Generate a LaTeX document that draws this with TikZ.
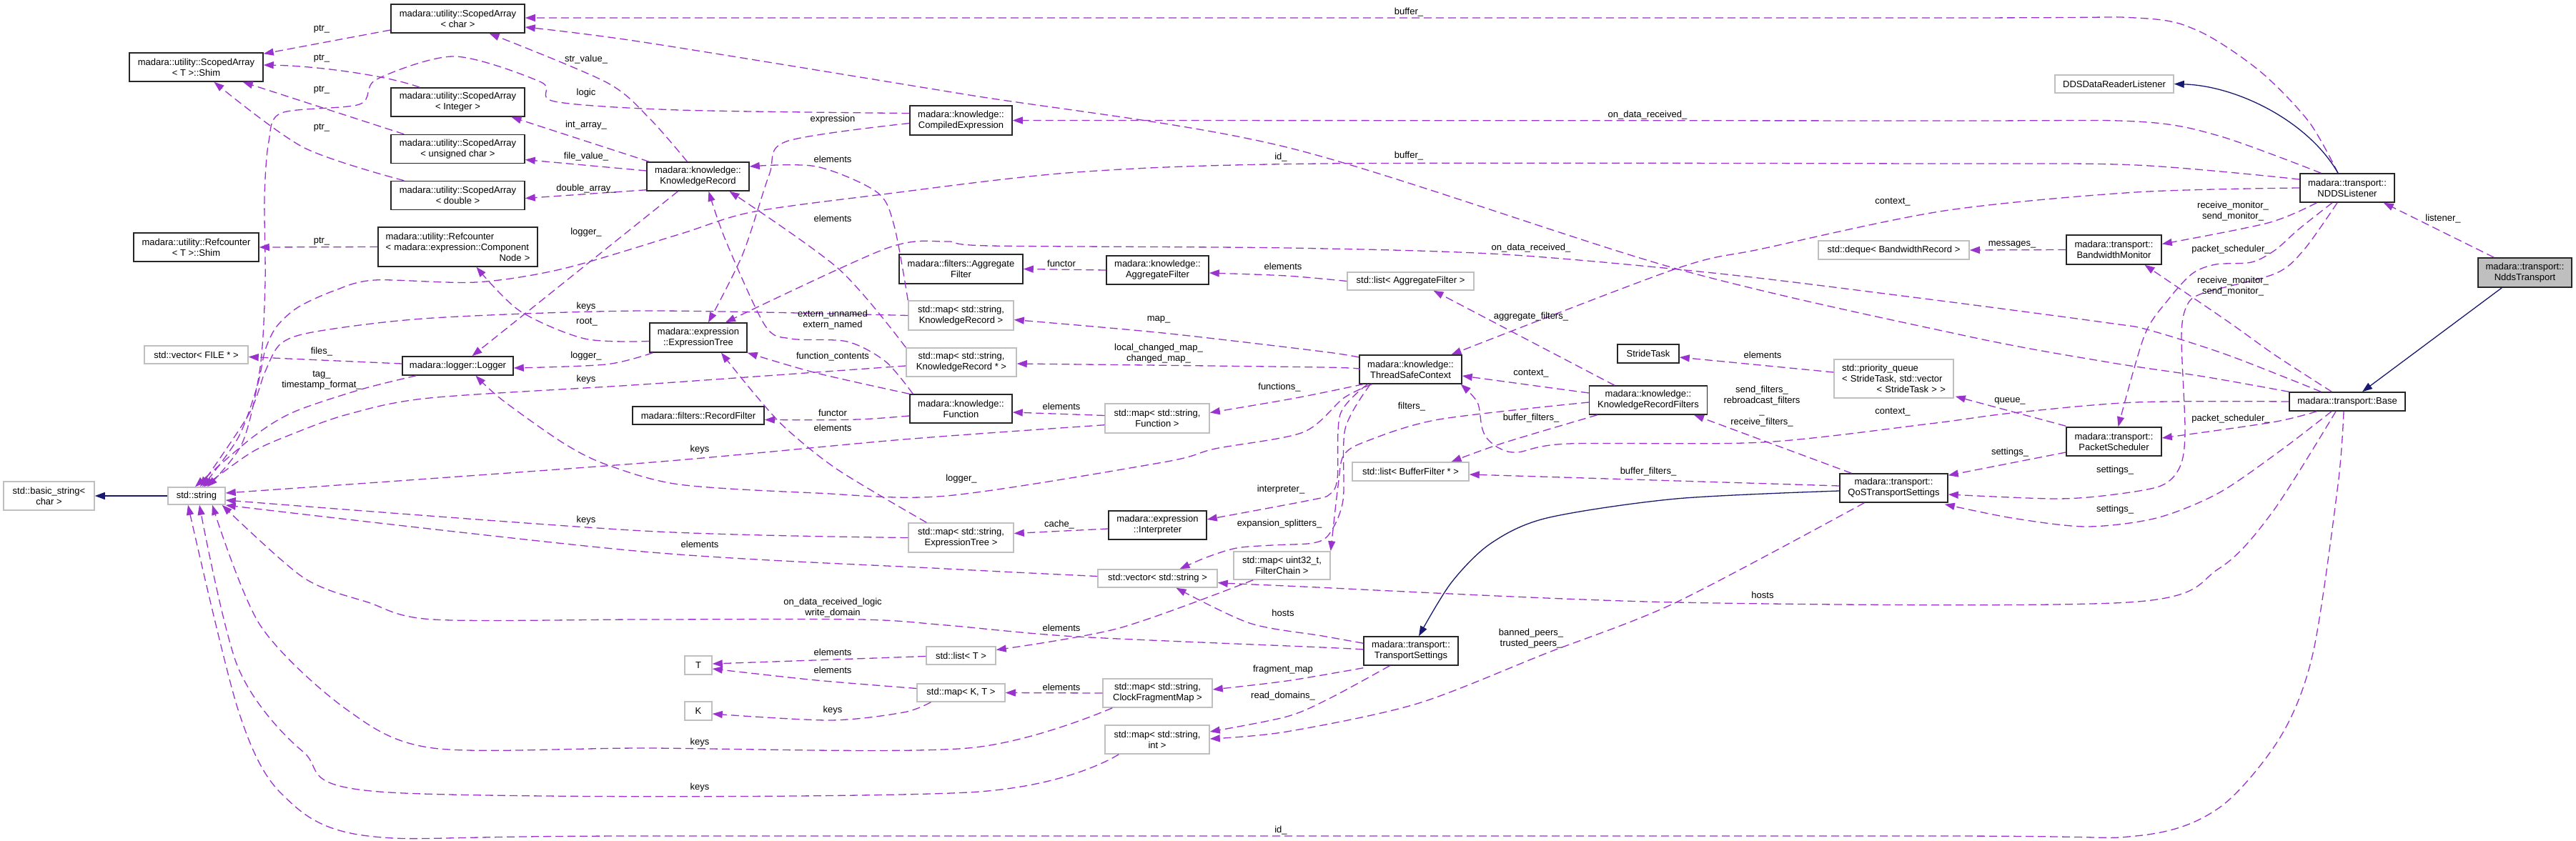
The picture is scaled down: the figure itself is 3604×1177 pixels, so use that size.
\documentclass[tikz,border=0pt]{standalone}
\usepackage{fontspec}
\setmainfont{Liberation Sans}
\usetikzlibrary{arrows.meta,calc}
\definecolor{dorchid}{HTML}{9A32CD}
\definecolor{mblue}{HTML}{191970}
\newcommand\dfont{\fontsize{13pt}{15pt}\selectfont}
\tikzset{
  nbase/.style={rectangle, inner sep=0pt, align=center, font=\dfont},
  doc/.style={nbase, draw=black!85, line width=1.5pt, fill=white},
  ext/.style={nbase, draw=gray!50, line width=1.5pt, fill=white},
  cur/.style={doc, fill=gray!50},
  rel/.style={draw=dorchid, line width=1.3pt, dash pattern=on 11pt off 6pt, -{Triangle[length=14pt,width=10pt]}},
  inh/.style={draw=mblue, line width=1.3pt, -{Triangle[length=14pt,width=10pt]}},
  lbl/.style={font=\dfont, inner sep=0pt, align=center},
}
\begin{document}
\begin{tikzpicture}[x=1pt,y=-1pt]
\path[use as bounding box, fill=white] (0,0) rectangle (3604,1177);

% ---------- nodes ----------
\node[doc, minimum width=187pt, minimum height=40pt] (SAc) at (640.5,26) {madara::utility::ScopedArray\\< char >};
\node[doc, minimum width=187pt, minimum height=40pt] (Shim) at (274.5,94) {madara::utility::ScopedArray\\< T >::Shim};
\node[doc, minimum width=187pt, minimum height=40pt] (SAi) at (640.5,143) {madara::utility::ScopedArray\\< Integer >};
\node[doc, minimum width=187pt, minimum height=40pt] (SAu) at (640.5,208.5) {madara::utility::ScopedArray\\< unsigned char >};
\node[doc, minimum width=187pt, minimum height=40pt] (SAd) at (640.5,273.5) {madara::utility::ScopedArray\\< double >};
\node[doc, minimum width=175pt, minimum height=40pt] (RCS) at (274.5,346) {madara::utility::Refcounter\\< T >::Shim};
\node[doc, minimum width=223pt, minimum height=55pt, text width=202pt, align=left] (RCC) at (640.5,345.5) {madara::utility::Refcounter\\< madara::expression::Component\\\hspace*{\fill}Node >\hspace*{\fill}};
\node[ext, minimum width=145pt, minimum height=25pt] (vecF) at (274.5,496.5) {std::vector< FILE * >};
\node[doc, minimum width=155pt, minimum height=26pt] (Logger) at (640.5,512) {madara::logger::Logger};
\node[doc, minimum width=143pt, minimum height=40pt] (KR) at (976.5,247) {madara::knowledge::\\KnowledgeRecord};
\node[doc, minimum width=136pt, minimum height=41pt] (ET) at (977,472.5) {madara::expression\\::ExpressionTree};
\node[doc, minimum width=184pt, minimum height=25pt] (RF) at (977,581.5) {madara::filters::RecordFilter};
\node[doc, minimum width=143pt, minimum height=41pt] (CE) at (1344.5,168.5) {madara::knowledge::\\CompiledExpression};
\node[doc, minimum width=173pt, minimum height=41pt] (fAF) at (1344.5,376.5) {madara::filters::Aggregate\\Filter};
\node[ext, minimum width=147pt, minimum height=41pt] (mapKR) at (1344.5,441.5) {std::map< std::string,\\KnowledgeRecord >};
\node[ext, minimum width=154pt, minimum height=40pt] (mapKRp) at (1345,507) {std::map< std::string,\\KnowledgeRecord * >};
\node[doc, minimum width=143pt, minimum height=40pt] (Func) at (1344.5,572) {madara::knowledge::\\Function};
\node[doc, minimum width=143pt, minimum height=40pt] (kAF) at (1619.5,378) {madara::knowledge::\\AggregateFilter};
\node[ext, minimum width=146pt, minimum height=41pt] (mapFunc) at (1619,585.5) {std::map< std::string,\\Function >};
\node[ext, minimum width=147pt, minimum height=41pt] (mapET) at (1344.5,752.5) {std::map< std::string,\\ExpressionTree >};
\node[doc, minimum width=137pt, minimum height=40pt] (Interp) at (1619.5,735) {madara::expression\\::Interpreter};
\node[ext, minimum width=167pt, minimum height=25pt] (vecStr) at (1619.5,809.5) {std::vector< std::string >};
\node[ext, minimum width=135pt, minimum height=39pt] (mapFC) at (1793.5,791.5) {std::map< uint32\_t,\\FilterChain >};
\node[ext, minimum width=97pt, minimum height=25pt] (listT) at (1344.5,917.5) {std::list< T >};
\node[ext, minimum width=38pt, minimum height=26pt] (T) at (977,931) {T};
\node[ext, minimum width=38pt, minimum height=26pt] (K) at (977,995) {K};
\node[ext, minimum width=123pt, minimum height=25pt] (mapKT) at (1344.5,969.5) {std::map< K, T >};
\node[ext, minimum width=153pt, minimum height=40pt] (mapCFM) at (1619.5,970) {std::map< std::string,\\ClockFragmentMap >};
\node[ext, minimum width=146pt, minimum height=40pt] (mapInt) at (1619,1035) {std::map< std::string,\\int >};
\node[ext, minimum width=127pt, minimum height=40pt] (basic) at (68.5,694) {std::basic\_string<\\char >};
\node[ext, minimum width=80pt, minimum height=24pt] (string) at (275,694) {std::string};
\node[ext, minimum width=177pt, minimum height=25pt] (listAgg) at (1973.5,393.5) {std::list< AggregateFilter >};
\node[ext, minimum width=211pt, minimum height=26pt] (deque) at (2649.5,350) {std::deque< BandwidthRecord >};
\node[doc, minimum width=143pt, minimum height=40pt] (TSC) at (1973.5,517) {madara::knowledge::\\ThreadSafeContext};
\node[doc, minimum width=86pt, minimum height=26pt] (Stride) at (2306,495) {StrideTask};
\node[doc, minimum width=165pt, minimum height=40pt] (KRF) at (2306,560) {madara::knowledge::\\KnowledgeRecordFilters};
\node[ext, minimum width=167pt, minimum height=54pt, text width=145pt, align=left] (pq) at (2649.5,530) {std::priority\_queue\\< StrideTask, std::vector\\\hspace*{\fill}< StrideTask > >\hspace*{\fill}};
\node[ext, minimum width=166pt, minimum height=25pt] (DDS) at (2958,117.5) {DDSDataReaderListener};
\node[doc, minimum width=132pt, minimum height=40pt] (NDDS) at (3284,263) {madara::transport::\\NDDSListener};
\node[doc, minimum width=133pt, minimum height=41pt] (BW) at (2957.5,349.5) {madara::transport::\\BandwidthMonitor};
\node[cur, minimum width=131pt, minimum height=41pt] (NT) at (3532.5,381.5) {madara::transport::\\NddsTransport};
\node[doc, minimum width=162pt, minimum height=26pt] (Base) at (3284,562) {madara::transport::Base};
\node[doc, minimum width=133pt, minimum height=40pt] (PS) at (2957.5,618) {madara::transport::\\PacketScheduler};
\node[ext, minimum width=163pt, minimum height=26pt] (listBF) at (1973.5,660) {std::list< BufferFilter * >};
\node[doc, minimum width=151pt, minimum height=40pt] (QoS) at (2649.5,683) {madara::transport::\\QoSTransportSettings};
\node[doc, minimum width=132pt, minimum height=40pt] (TS) at (1974,911) {madara::transport::\\TransportSettings};

% ---------- edges ----------
% Shim / Refcounter
\draw[rel] ($(SAc.west)+(0,16)$) -- ($(Shim.north east)+(0,2)$);
\draw[rel] ($(SAi.north west)+(41,0)$) .. controls (540,105) and (440,92) .. ($(Shim.east)+(0,-3)$);
\draw[rel] ($(SAu.north west)+(19,0)$) -- ($(Shim.south east)+(-29,0)$);
\draw[rel] plot[smooth] coordinates {($(SAd.north west)+(19,0)$) (424,206) ($(Shim.south)+(25,0)$)};
\draw[rel] (RCC.west) -- (RCS.east);
% KnowledgeRecord
\draw[rel] plot[smooth] coordinates {($(KR.north)+(-15,0)$) (909,166) (848,115) ($(SAc.south)+(44,0)$)};
\draw[rel] ($(KR.north west)+(4,0)$) -- ($(SAi.south)+(75,0)$);
\draw[rel] ($(KR.west)+(0,-8)$) -- ($(SAu.east)+(0,15)$);
\draw[rel] ($(KR.south west)+(0,-2)$) -- ($(SAd.east)+(0,4)$);
\draw[rel] ($(KR.south)+(-28,0)$) -- ($(Logger.north)+(20,0)$);
\draw[rel] plot[smooth] coordinates {(mapKR.north west) (1251,316) (1227,269) (1142,233) ($(KR.east)+(0,-14)$)};
\draw[rel] plot[smooth] coordinates {(mapKRp.north west) (1173,376) ($(KR.south)+(44,0)$)};
\draw[rel] plot[smooth] coordinates {($(Func.north west)+(5,0)$) (1239,506) (1185,478) (1106,474) (1070,455) (1015,336) ($(KR.south)+(15,0)$)};
% CompiledExpression
\draw[rel] plot[smooth] coordinates {($(CE.west)+(0,-10)$) (950,154) (776,142) (757,115) (636,79) (527,111) (503,146) (394,158) (376,198) (370,277) (371,395) (364,514) (339,620) ($(string.north)+(15,0)$)};
\draw[rel] plot[smooth] coordinates {($(CE.west)+(0,4)$) (1100,198) (1076,245) (1039,356) ($(ET.north)+(14,0)$)};
% ExpressionTree
\draw[rel] plot[smooth] coordinates {(Func.north west) (1142,522) (ET.south east)};
\draw[rel] ($(Func.west)+(0,10)$) .. controls (1200,588) .. ($(RF.east)+(0,6)$);
\draw[rel] plot[smooth] coordinates {($(mapET.north west)+(26,0)$) (1173,658) (1100,600) (1057,553) ($(ET.south)+(32,0)$)};
\draw[rel] plot[smooth] coordinates {($(ET.west)+(0,5)$) (818,474) (727,435) ($(RCC.south)+(26,0)$)};
\draw[rel] plot[smooth] coordinates {($(ET.south west)+(5,0)$) (848,510) ($(Logger.east)+(0,3)$)};
% Logger
\draw[rel] ($(Logger.west)+(0,-3)$) -- ($(vecF.east)+(0,3)$);
\draw[rel] plot[smooth] coordinates {($(Logger.south west)+(20,0)$) (505,545) (410,577) (352,613) ($(string.north)+(-2,0)$)};
\draw[rel] plot[smooth] coordinates {($(TSC.south west)+(18,0)$) (1880,557) (1823,605) (1700,628) (1627,647) (1324,694) (1142,690) (950,678) (848,650) (788,620) (703,560) ($(Logger.south)+(25,0)$)};
% into std::string
\draw[rel] plot[smooth] coordinates {(mapKR.west) (900,435) (606,445) (448,463) (394,480) (371,520) (348,580) ($(string.north)+(5,0)$)};
\draw[rel] plot[smooth] coordinates {($(mapKRp.west)+(0,5)$) (900,538) (601,557) (486,580) (410,607) (352,633) ($(string.north)+(10,0)$)};
\draw[rel] plot[smooth] coordinates {($(NDDS.west)+(0,-12)$) (2988,231) (2700,229) (1850,229) (1506,241) (1227,273) (1051,297) (950,328) (788,376) (666,395) (524,392) (467,407) (417,430) (387,457) (371,490) (360,540) (333,613) ($(string.north)+(8,0)$)};
\draw[rel] plot[smooth] coordinates {($(mapFunc.south west)+(0,-12)$) (1264,615) (900,648) ($(string.east)+(0,-4)$)};
\draw[rel] plot[smooth] coordinates {(mapET.west) (900,743) ($(string.east)+(0,6)$)};
\draw[rel] plot[smooth] coordinates {($(vecStr.west)+(0,-3)$) (1324,796) (900,772) ($(string.east)+(0,13)$)};
\draw[rel] plot[smooth] coordinates {($(TS.west)+(0,-2)$) (1850,906) (1506,891) (1324,875) (1203,867) (900,867) (606,867) (515,843) (424,808) ($(string.south east)+(-5,0)$)};
\draw[rel] plot[smooth] coordinates {($(mapCFM.south west)+(14,0)$) (1354,1047) (900,1047) (606,1047) (485,993) (364,875) ($(string.south)+(22,0)$)};
\draw[rel] plot[smooth] coordinates {($(mapInt.south west)+(20,0)$) (1354,1109) (545,1109) (424,1052) (333,934) ($(string.south)+(4,0)$)};
\draw[rel] plot[smooth] coordinates {($(Base.south)+(-5,0)$) (3271,678) (3236,914) (3190,1032) (3104,1131) (2988,1170) (2700,1170) (900,1170) (515,1170) (394,1111) (333,993) ($(string.south)+(-12,0)$)};
\draw[inh] (string.west) -- (basic.east);
% maps, lists
\draw[rel] ($(Interp.west)+(0,5)$) -- ($(mapET.east)+(0,-6)$);
\draw[rel] (mapCFM.west) -- (mapKT.east);
\draw[rel] plot[smooth] coordinates {($(mapKT.west)+(0,-6)$) (1142,952) ($(T.east)+(0,5)$)};
\draw[rel] plot[smooth] coordinates {($(mapKT.south west)+(20,0)$) (1264,997) (1161,1008) ($(K.east)+(0,4)$)};
\draw[rel] ($(listT.west)+(0,1)$) -- ($(T.east)+(0,-2)$);
\draw[rel] plot[smooth] coordinates {($(mapFC.south west)+(28,0)$) (1566,879) ($(listT.east)+(0,-8)$)};
% ThreadSafeContext
\draw[rel] plot[smooth] coordinates {($(TSC.west)+(0,-17)$) (1850,492) (1627,466) ($(mapKR.east)+(0,6)$)};
\draw[rel] plot[smooth] coordinates {(TSC.west) (1850,514) ($(mapKRp.east)+(0,2)$)};
\draw[rel] plot[smooth] coordinates {($(TSC.south west)+(6,0)$) (1813,557) ($(mapFunc.east)+(0,-8)$)};
\draw[rel] plot[smooth] coordinates {($(TSC.south west)+(12,0)$) (1875,580) (1871,670) (1860,692) (1833,700) ($(Interp.east)+(0,-8)$)};
\draw[rel] plot[smooth] coordinates {($(TSC.south west)+(16,0)$) (1882,600) (1879,700) (1860,747) (1837,760) (1780,763) (1730,767) (1688,780) ($(vecStr.north)+(31,0)$)};
% KnowledgeRecordFilters
\draw[rel] plot[smooth] coordinates {($(KRF.west)+(0,3)$) (2013,587) (1913,617) (1880,637) (1872,680) (mapFC.north east)};
\draw[rel] ($(KRF.north west)+(36,0)$) -- ($(listAgg.south)+(32,0)$);
\draw[rel] ($(KRF.west)+(0,-10)$) -- ($(TSC.east)+(0,9)$);
\draw[rel] plot[smooth] coordinates {($(KRF.south west)+(12,0)$) (2103,620) ($(listBF.north)+(57,0)$)};
\draw[rel] plot[smooth] coordinates {(listAgg.west) (1800,386) ($(kAF.east)+(0,4)$)};
\draw[rel] (kAF.west) -- (fAF.east);
\draw[rel] ($(mapFunc.west)+(0,-4)$) -- ($(Func.east)+(0,5)$);
% NDDSListener
\draw[rel] plot[smooth] coordinates {($(NDDS.north)+(-13,0)$) (3230,170) (3161,99) (3075,43) (2988,25) (2700,25) ($(SAc.east)+(0,-1)$)};
\draw[rel] plot[smooth] coordinates {($(NDDS.north west)+(30,0)$) (3104,190) (2988,170) (2700,169) (CE.east)};
\draw[rel] plot[smooth] coordinates {(NDDS.west) (2988,269) (2720,295) (2466,348) (2345,376) ($(TSC.north)+(57,0)$)};
\draw[rel] plot[smooth] coordinates {($(NDDS.south west)+(24,0)$) (3173,312) ($(BW.east)+(0,-8)$)};
\draw[rel] plot[smooth] coordinates {($(NDDS.south)+(-21,0)$) (3217,320) (3183,350) (3150,367) (3100,370) (3067,383) (3033,420) (3000,470) ($(PS.north)+(6,0)$)};
\draw[rel] plot[smooth] coordinates {($(NDDS.south)+(-14,0)$) (3223,350) (3183,383) (3083,410) (3060,427) (3052,470) (3057,603) (3050,653) (3023,680) (2950,693) (2873,698) ($(QoS.east)+(0,9)$)};
\draw[inh] ($(NDDS.north)+(-13,0)$) .. controls (3230,170) and (3130,120) .. (DDS.east);
\draw[rel] ($(NT.north west)+(23,0)$) -- ($(NDDS.south east)+(-16,0)$);
\draw[inh] ($(NT.south west)+(34,0)$) -- ($(Base.north)+(21,0)$);
\draw[rel] (BW.west) -- (deque.east);
% Base
\draw[rel] plot[smooth] coordinates {($(Base.north west)+(60,0)$) (3183,497) (3117,450) ($(BW.south)+(43,0)$)};
\draw[rel] plot[smooth] coordinates {($(Base.south west)+(39,0)$) (3179,591) ($(PS.east)+(0,-5)$)};
\draw[rel] ($(PS.north west)+(0,-1)$) -- ($(pq.south east)+(2,-3)$);
\draw[rel] ($(PS.west)+(0,15)$) -- ($(QoS.north east)+(0,3)$);
\draw[rel] plot[smooth] coordinates {($(Base.south)+(-22,0)$) (3190,631) (3104,690) (3017,725) (2919,737) (2815,725) ($(QoS.south east)+(-5,2)$)};
\draw[rel] plot[smooth] coordinates {($(Base.south)+(-16,0)$) (3179,717) (3104,796) (2977,843) (2345,843) (1800,820) ($(vecStr.east)+(0,6)$)};
\draw[rel] plot[smooth] coordinates {(Base.west) (2988,563) (2815,578) (2700,593) (2466,619) (2194,621) (2123,633) (2097,627) (2080,613) (2073,597) (2067,563) ($(TSC.south east)+(-2,0)$)};
\draw[rel] plot[smooth] coordinates {($(Base.north west)+(45,0)$) (3117,497) (3007,462) (2950,452) (2700,419) (2406,383) (2103,356) (1800,347) (1385,344) (1324,338) (1239,348) ($(ET.north)+(38,0)$)};
\draw[rel] plot[smooth] coordinates {(Base.north west) (3083,527) (2950,507) (2750,470) (2345,376) (1800,206) (1350,132) (900,59) ($(SAc.east)+(0,12)$)};
% QoS / TransportSettings
\draw[rel] ($(QoS.west)+(0,-3)$) -- ($(listBF.east)+(0,4)$);
\draw[rel] ($(QoS.north west)+(17,0)$) -- ($(KRF.south)+(64,0)$);
\draw[inh] plot[smooth] coordinates {($(QoS.west)+(0,4)$) (2345,698) (2164,725) (2085,761) (2030,816) ($(TS.north)+(11,0)$)};
\draw[rel] plot[smooth] coordinates {($(QoS.south west)+(35,0)$) (2345,843) (2164,914) (1982,985) (1800,1024) ($(mapInt.east)+(0,-1)$)};
\draw[rel] plot[smooth] coordinates {($(TS.south west)+(0,3)$) (1800,953) ($(mapCFM.east)+(0,-5)$)};
\draw[rel] plot[smooth] coordinates {($(TS.south west)+(37,0)$) (1861,977) (1800,1003) ($(mapInt.east)+(0,-11)$)};
\draw[rel] plot[smooth] coordinates {($(TS.north west)+(0,10)$) (1850,890) (1748,872) ($(vecStr.south)+(26,0)$)};
\draw[rel] ($(pq.west)+(0,-9)$) -- ($(Stride.east)+(0,5)$);

% ---------- labels ----------
\node[lbl] (L1) at (450,41) {ptr\_};
\node[lbl] (L2) at (450,82) {ptr\_};
\node[lbl] (L3) at (450,126) {ptr\_};
\node[lbl] (L4) at (450,179) {ptr\_};
\node[lbl] (L5) at (450,338) {ptr\_};
\node[lbl] (L6) at (820,83) {str\_value\_};
\node[lbl] (L7) at (820,175) {int\_array\_};
\node[lbl] (L8) at (820,219) {file\_value\_};
\node[lbl] (L9) at (820,264) {double\_array\_};
\node[lbl] (L10) at (820,325) {logger\_};
\node[lbl] (L11) at (820,130) {logic};
\node[lbl] (L12) at (1165,167) {expression};
\node[lbl] (L13) at (1165,223) {elements};
\node[lbl] (L14) at (1165,306) {elements};
\node[lbl] (L15) at (1165,448) {extern\_unnamed\\extern\_named};
\node[lbl] (L16) at (1165,499) {function\_contents};
\node[lbl] (L17) at (1165,578) {functor};
\node[lbl] (L18) at (1165,599) {elements};
\node[lbl] (L19) at (820,728) {keys};
\node[lbl] (L20) at (820,429) {keys};
\node[lbl] (L21) at (820,531) {keys};
\node[lbl] (L22) at (1792,220) {id\_};
\node[lbl] (L23) at (450,532) {tag\_\\timestamp\_format\_};
\node[lbl] (L24) at (450,492) {files\_};
\node[lbl] (L25) at (821,451) {root\_};
\node[lbl] (L26) at (820,498) {logger\_};
\node[lbl] (L27) at (1345,670) {logger\_};
\node[lbl] (L28) at (979,629) {keys};
\node[lbl] (L29) at (979,762) {elements};
\node[lbl] (L30) at (1165,851) {on\_data\_received\_logic\\write\_domain};
\node[lbl] (L31) at (979,1039) {keys};
\node[lbl] (L32) at (979,1102) {keys};
\node[lbl] (L33) at (1792,1162) {id\_};
\node[lbl] (L34) at (1482,734) {cache\_};
\node[lbl] (L35) at (1485,962) {elements};
\node[lbl] (L36) at (1165,938) {elements};
\node[lbl] (L37) at (1165,994) {keys};
\node[lbl] (L38) at (1165,913) {elements};
\node[lbl] (L39) at (1485,879) {elements};
\node[lbl] (L40) at (1621,447) {map\_};
\node[lbl] (L41) at (1621,494.5) {local\_changed\_map\_\\changed\_map\_};
\node[lbl] (L42) at (1790,542) {functions\_};
\node[lbl] (L43) at (1792,685) {interpreter\_};
\node[lbl] (L44) at (1790,733) {expansion\_splitters\_};
\node[lbl] (L45) at (1975,569) {filters\_};
\node[lbl] (L46) at (2142,443) {aggregate\_filters\_};
\node[lbl] (L47) at (2142,523) {context\_};
\node[lbl] (L48) at (2142,585) {buffer\_filters\_};
\node[lbl] (L49) at (1795,373) {elements};
\node[lbl] (L50) at (1485,369) {functor};
\node[lbl] (L51) at (1485,569) {elements};
\node[lbl] (L52) at (1971,17) {buffer\_};
\node[lbl] (L53) at (2305,161) {on\_data\_received\_};
\node[lbl] (L54) at (2648,283) {context\_};
\node[lbl] (L55) at (3124,295.5) {receive\_monitor\_\\send\_monitor\_};
\node[lbl] (L56) at (3121,349) {packet\_scheduler\_};
\node[lbl] (L57) at (2959,658) {settings\_};
\node[lbl] (L58) at (3418,306) {listener\_};
\node[lbl] (L59) at (2815,342) {messages\_};
\node[lbl] (L60) at (3124,400.5) {receive\_monitor\_\\send\_monitor\_};
\node[lbl] (L61) at (3121,586) {packet\_scheduler\_};
\node[lbl] (L62) at (2812,561) {queue\_};
\node[lbl] (L63) at (2812,633) {settings\_};
\node[lbl] (L64) at (2959,713) {settings\_};
\node[lbl] (L65) at (2466,833) {hosts};
\node[lbl] (L66) at (2648,577) {context\_};
\node[lbl] (L67) at (2142,347) {on\_data\_received\_};
\node[lbl] (L68) at (1971,218) {buffer\_};
\node[lbl] (L69) at (2306,660) {buffer\_filters\_};
\node[lbl] (L70) at (2465,568.5) {send\_filters\_\\rebroadcast\_filters\\\_\\receive\_filters\_};
\node[lbl] (L71) at (2142,893.5) {banned\_peers\_\\trusted\_peers\_};
\node[lbl] (L72) at (1795,937) {fragment\_map};
\node[lbl] (L73) at (1795,974) {read\_domains\_};
\node[lbl] (L74) at (2466,497) {elements};
\node[lbl] (L75) at (1795,858) {hosts};
\end{tikzpicture}
\end{document}
